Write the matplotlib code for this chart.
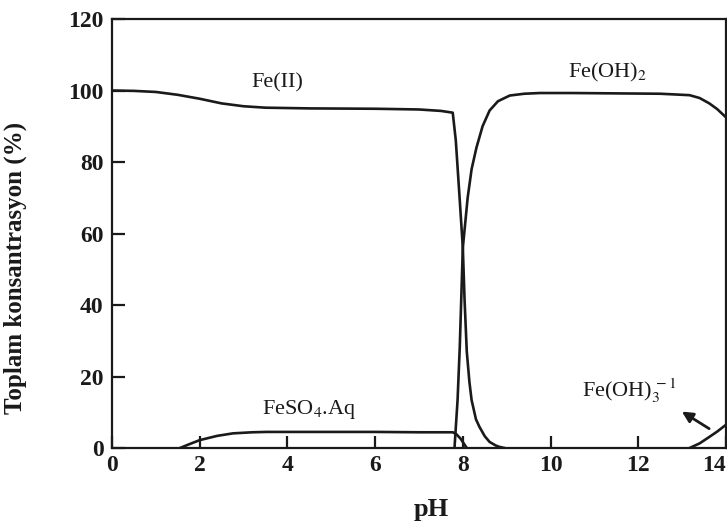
import matplotlib
matplotlib.use("Agg")
import matplotlib.pyplot as plt

# ---- data ----
fe2_x = [0, 0.5, 1.0, 1.5, 2.0, 2.5, 3.0, 3.5, 4.5, 6.0, 7.0, 7.5, 7.77, 7.84, 7.93, 8.0,
         8.04, 8.09, 8.15, 8.2, 8.3, 8.38, 8.5, 8.61, 8.75, 8.84, 8.95]
fe2_y = [100, 99.9, 99.6, 98.8, 97.7, 96.4, 95.6, 95.2, 95.0, 94.9, 94.7, 94.3, 93.8, 86, 69.3, 56,
         41.3, 27, 18.5, 13.4, 8, 5.9, 3.3, 1.7, 0.7, 0.3, 0]

feoh2_x = [7.81, 7.88, 7.93, 8.0, 8.11, 8.2, 8.31, 8.45, 8.61, 8.8, 9.07, 9.4, 9.75, 10.5,
           11.5, 12.5, 13.17, 13.4, 13.62, 13.8, 14.0]
feoh2_y = [0, 13.4, 28.2, 56, 70, 78, 84, 90, 94.4, 97, 98.6, 99.1, 99.3, 99.3,
           99.2, 99.1, 98.7, 97.9, 96.4, 94.8, 92.5]

feso4_x = [1.55, 1.75, 2.0, 2.4, 2.76, 3.2, 3.53, 4.5, 6.0, 7.0, 7.77, 7.85, 7.95, 8.09]
feso4_y = [0, 1.0, 2.2, 3.4, 4.1, 4.4, 4.5, 4.5, 4.5, 4.4, 4.4, 3.9, 2.6, 0]

feoh3_x = [13.17, 13.4, 13.62, 13.8, 14.0]
feoh3_y = [0, 1.3, 3.1, 4.6, 6.5]

x_ticks = [0, 2, 4, 6, 8, 10, 12, 14]
y_ticks = [0, 20, 40, 60, 80, 100, 120]

labels = ["Fe(II)", "Fe(OH)$_2$", "FeSO$_4$.Aq", "Fe(OH)$_3^{\\,-1}$"]
label_x = [3.76, 11.3, 4.49, 11.8]
label_y = [102.2, 105.0, 10.8, 16.0]

# ---- plot ----
plt.rcParams["font.family"] = ["Liberation Serif", "DejaVu Serif"]
plt.rcParams["mathtext.fontset"] = "stix"

fig = plt.figure(figsize=(7.27, 5.30), dpi=100)
ax = fig.add_axes([0.154, 0.1547, 0.8446, 0.8094])

ink = "#1a1a1a"
lw = 1.9
ax.plot(fe2_x, fe2_y, color=ink, lw=lw, solid_joinstyle="round")
ax.plot(feoh2_x, feoh2_y, color=ink, lw=lw, solid_joinstyle="round")
ax.plot(feso4_x, feso4_y, color=ink, lw=lw, solid_joinstyle="round")
ax.plot(feoh3_x, feoh3_y, color=ink, lw=lw, solid_joinstyle="round")

ax.set_xlim(0, 14)
ax.set_ylim(0, 120)
ax.set_xticks(x_ticks)
ax.set_yticks(y_ticks)
ax.tick_params(direction="in", length=9, width=1.6, color=ink, labelsize=17,
               labelcolor=ink)
ax.tick_params(axis="y", pad=6)
ax.tick_params(axis="x", pad=5)
for lab in ax.get_xticklabels() + ax.get_yticklabels():
    lab.set_fontweight("bold")
ax.get_xticklabels()[-1].set_horizontalalignment("right")
for s in ax.spines.values():
    s.set_linewidth(1.6)
    s.set_color(ink)

ax.set_ylabel("Toplam konsantrasyon (%)", fontsize=18, fontweight="bold", color=ink)
ax.yaxis.set_label_coords(-0.138, 0.42)
ax.set_xlabel("pH", fontsize=19, fontweight="bold", color=ink)
ax.xaxis.set_label_coords(0.52, -0.116)

for t, x, y in zip(labels, label_x, label_y):
    ax.text(x, y, t, fontsize=16, color=ink, ha="center", va="center")

ax.annotate("", xy=(12.94, 10.6), xytext=(13.67, 5.0),
            arrowprops=dict(arrowstyle="-|>", color=ink, lw=2.0, mutation_scale=16))

fig.savefig("out.png", dpi=100, facecolor="white")
